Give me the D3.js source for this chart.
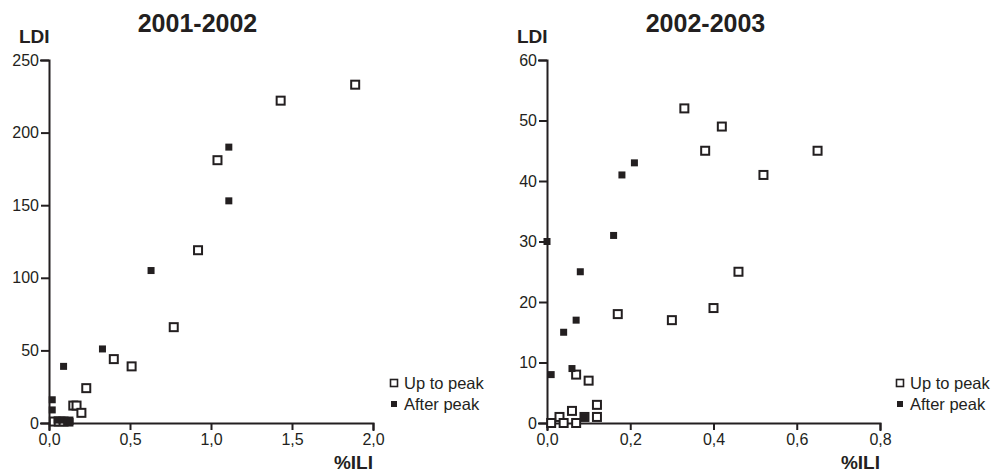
<!DOCTYPE html>
<html><head><meta charset="utf-8">
<script src="https://cdn.jsdelivr.net/npm/d3@7"></script>
<style>
body{margin:0;background:#fff;}
svg{display:block;font-family:"Liberation Sans",Arial,sans-serif;}
</style></head><body>
<svg id="c" width="993" height="472"></svg>
<script>
// ---- data ----
const titles = ["2001-2002", "2002-2003"];
const xTicks1 = [0, 0.5, 1.0, 1.5, 2.0];
const yTicks1 = [0, 50, 100, 150, 200, 250];
const xTicks2 = [0, 0.2, 0.4, 0.6, 0.8];
const yTicks2 = [0, 10, 20, 30, 40, 50, 60];
const legendLabels = ["Up to peak", "After peak"];

const up1X = [1.89, 1.43, 1.04, 0.92, 0.77, 0.40, 0.51, 0.23, 0.15, 0.17, 0.20, 0.03, 0.06, 0.09, 0.12];
const up1Y = [233, 222, 181, 119, 66, 44, 39, 24, 12, 12, 7, 1, 1, 1, 1];
const after1X = [1.11, 1.11, 0.63, 0.33, 0.09, 0.02, 0.02, 0.05, 0.08, 0.11, 0.13];
const after1Y = [190, 153, 105, 51, 39, 16, 9, 2, 2, 1, 1];

const up2X = [0.33, 0.42, 0.38, 0.65, 0.52, 0.46, 0.40, 0.30, 0.17, 0.07, 0.10, 0.12, 0.06, 0.12, 0.03, 0.09, 0.01, 0.04, 0.07];
const up2Y = [52, 49, 45, 45, 41, 25, 19, 17, 18, 8, 7, 3, 2, 1, 1, 1, 0, 0, 0];
const after2X = [0.21, 0.18, 0.16, 0.0, 0.08, 0.07, 0.04, 0.06, 0.01, 0.09];
const after2Y = [43, 41, 31, 30, 25, 17, 15, 9, 8, 1];

// ---- drawing ----
const ink = "#231f20";
const svg = d3.select("#c");
const fmt = d => d3.format(".1f")(d).replace(".", ",");

const panels = [
  {title: titles[0], xd:[0,2], yd:[0,250], xt:xTicks1, yt:yTicks1, x0:49, x1:373, tx:197.5, legX:394,
   up: up1X.map((x,i)=>[x,up1Y[i]]), after: after1X.map((x,i)=>[x,after1Y[i]])},
  {title: titles[1], xd:[0,0.8], yd:[0,60], xt:xTicks2, yt:yTicks2, x0:547, x1:880, tx:705.5, legX:900,
   up: up2X.map((x,i)=>[x,up2Y[i]]), after: after2X.map((x,i)=>[x,after2Y[i]])}
];

const yTop = 60, yBot = 423;

panels.forEach(p => {
  const x = d3.scaleLinear().domain(p.xd).range([p.x0, p.x1]);
  const y = d3.scaleLinear().domain(p.yd).range([yBot, yTop]);
  const g = svg.append("g");

  // title
  g.append("text").attr("x", p.tx).attr("y", 32).attr("text-anchor","middle")
    .attr("font-size", 25).attr("font-weight","bold").attr("fill", ink).text(p.title);
  // y label
  g.append("text").attr("x", p.x0 - 30).attr("y", 43).attr("font-size", 19)
    .attr("font-weight","bold").attr("fill", ink).text("LDI");
  // x label
  g.append("text").attr("x", p.x1).attr("y", 469).attr("text-anchor","end").attr("font-size", 19)
    .attr("font-weight","bold").attr("fill", ink).text("%ILI");

  // axes
  const ya = g.append("g").attr("transform", `translate(${p.x0},0)`)
    .call(d3.axisLeft(y).tickValues(p.yt).tickSize(8).tickPadding(2).tickFormat(d3.format("d")));
  const xa = g.append("g").attr("transform", `translate(0,${yBot})`)
    .call(d3.axisBottom(x).tickValues(p.xt).tickSize(7).tickPadding(4).tickFormat(fmt));
  [ya, xa].forEach(a => {
    a.selectAll("path,line").attr("stroke", ink).attr("stroke-width", 2);
    a.selectAll("path").attr("stroke-linecap","square");
    a.selectAll("text").attr("font-size", 16).attr("fill", ink)
      .attr("font-family", "Liberation Sans,Arial,sans-serif");
  });

  // points
  g.selectAll(".up").data(p.up).join("rect")
    .attr("x", d => x(d[0]) - 4).attr("y", d => y(d[1]) - 4)
    .attr("width", 8).attr("height", 8)
    .attr("fill", "#fff").attr("stroke", ink).attr("stroke-width", 2);
  g.selectAll(".af").data(p.after).join("rect")
    .attr("x", d => x(d[0]) - 3.5).attr("y", d => y(d[1]) - 3.5)
    .attr("width", 7).attr("height", 7).attr("fill", ink);

  // legend
  const lg = g.append("g");
  lg.append("rect").attr("x", p.legX - 3.5).attr("y", 379.5).attr("width", 7).attr("height", 7)
    .attr("fill","#fff").attr("stroke", ink).attr("stroke-width", 1.6);
  lg.append("rect").attr("x", p.legX - 3).attr("y", 401).attr("width", 6).attr("height", 6)
    .attr("fill", ink);
  lg.append("text").attr("x", p.legX + 10).attr("y", 389).attr("font-size", 16.5).attr("fill", ink).text(legendLabels[0]);
  lg.append("text").attr("x", p.legX + 10).attr("y", 410).attr("font-size", 16.5).attr("fill", ink).text(legendLabels[1]);
});
</script>
</body></html>
